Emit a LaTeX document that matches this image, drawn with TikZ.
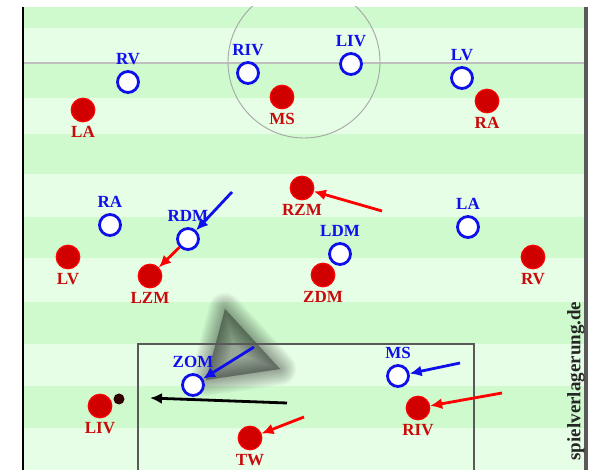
\documentclass[tikz,border=0pt]{standalone}
\usepackage{fontspec}
\setmainfont{Liberation Serif}
\usetikzlibrary{arrows.meta}
\definecolor{rasendunkel}{RGB}{206,250,206}
\definecolor{rasenhell}{RGB}{230,253,230}
\definecolor{spielerrot}{RGB}{208,0,0}
\definecolor{textrot}{RGB}{200,10,10}
\definecolor{spielerblau}{RGB}{15,15,235}
\definecolor{ballbraun}{RGB}{50,0,0}

\begin{document}
\begin{tikzpicture}[x=1pt, y=-1pt,
		>={Latex[length=12pt,width=11pt]},   %Pfeilspitzen
		blau/.style={circle, draw=spielerblau, line width=2.8pt, fill=white, minimum size=21pt, inner sep=0pt,
			label={[font=\fontsize{17}{17}\selectfont\bfseries, text=spielerblau, inner sep=0pt, yshift=5pt]above:#1}},
		rot/.style={circle, draw=red, line width=1.2pt, fill=spielerrot, minimum size=23.5pt, inner sep=0pt,
			label={[font=\fontsize{17}{17}\selectfont\bfseries, text=textrot, inner sep=0pt, yshift=-4pt]below:#1}},
		laufblau/.style={->, spielerblau, line width=2.8pt},
		laufrot/.style={->, red, line width=2.8pt}]
		\useasboundingbox (0,0) rectangle (595,470);
		%Rasen
		\fill[rasenhell] (23,7) rectangle (586,470);
		\foreach \ya/\yb in {7/28, 63/98, 134/174, 217/258, 302/344, 386/428}
			\fill[rasendunkel] (23,\ya) rectangle (586,\yb);
		%Linien
		\begin{scope}
			\clip (23,7) rectangle (586,470);
			\draw[black!25, line width=1.5pt] (23,63) -- (586,63);
			\draw[black!35, line width=0.9pt] (304,62) circle (76);
		\end{scope}
		\draw[black, line width=1.6pt] (23,7) -- (23,470);
		\draw[black!65, line width=3.5pt] (586,7) -- (586,470);
		%Schatten
		\foreach \w in {32,29,...,2}
			\filldraw[black, transparency group, opacity=0.034, line width=\w pt, line join=round] (225,309) -- (206,380) -- (280,369) -- cycle;
		%Strafraum
		\draw[black!65, line width=1.2pt] (138,475) |- (474,344) -- (474,475);
		%Blau
		\node[blau=RV] (bRV) at (128,82) {};
		\node[blau=RIV] (bRIV) at (248,73) {};
		\node[blau=LIV] (bLIV) at (351,64) {};
		\node[blau=LV] (bLV) at (462,78) {};
		\node[blau=RA] (bRA) at (110,225) {};
		\node[blau=RDM] (bRDM) at (188,239) {};
		\node[blau=LDM] (bLDM) at (340,254) {};
		\node[blau=LA] (bLA) at (468,227) {};
		\node[blau=ZOM] (bZOM) at (193,385) {};
		\node[blau=MS] (bMS) at (398,376) {};
		%Rot
		\node[rot=LA] (rLA) at (83,110) {};
		\node[rot=MS] (rMS) at (282,97) {};
		\node[rot=RA] (rRA) at (487,101) {};
		\node[rot=RZM] (rRZM) at (302,188) {};
		\node[rot=LV] (rLV) at (68,257) {};
		\node[rot=LZM] (rLZM) at (150,276) {};
		\node[rot=ZDM] (rZDM) at (323,275) {};
		\node[rot=RV] (rRV) at (533,257) {};
		\node[rot=LIV] (rLIV) at (100,406) {};
		\node[rot=TW] (rTW) at (250,438) {};
		\node[rot=RIV] (rRIV) at (418,408) {};
		%Ball
		\node[circle, fill=ballbraun, minimum size=11pt, inner sep=0pt] (ball) at (119,399) {};
		%Laufwege
		\coordinate (vRDM) at (232,192);
		\coordinate (vRZM) at (382,211);
		\coordinate (vZOM) at (254,347);
		\coordinate (vMS) at (460,363);
		\coordinate (vRIV) at (502,393);
		\coordinate (vTW) at (304,417);
		\coordinate (passA) at (287,403);
		\coordinate (passB) at (150,398);
		\draw[laufblau] (vRDM) -- (bRDM);
		\draw[laufrot] (bRDM) -- (rLZM);
		\draw[laufrot] (vRZM) -- (rRZM);
		\draw[laufblau] (vZOM) -- (bZOM);
		\draw[laufblau] (vMS) -- (bMS);
		\draw[laufrot] (vRIV) -- (rRIV);
		\draw[laufrot] (vTW) -- (rTW);
		\draw[->, black, line width=2.8pt] (passA) -- (passB);
		%Wasserzeichen
		\node[rotate=90, font=\fontsize{19}{19}\selectfont\bfseries, text=black!85] (wasserzeichen) at (576,381) {spielverlagerung.de};
	\end{tikzpicture}
\end{document}
